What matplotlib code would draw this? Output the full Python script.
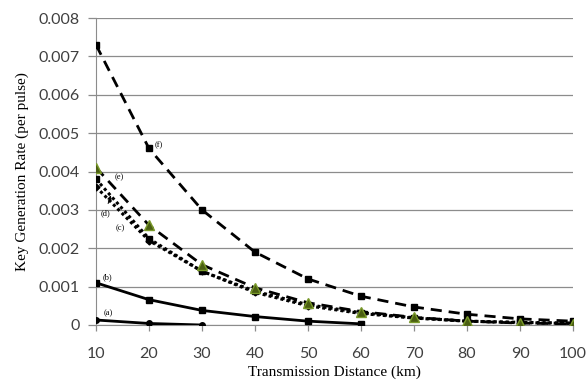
import matplotlib
matplotlib.use("Agg")
import matplotlib.pyplot as plt
import matplotlib.ticker as ticker

distance = [10, 20, 30, 40, 50, 60, 70, 80, 90, 100]
rate_a = [0.00013, 0.00004, 0.0]
rate_b = [0.0011, 0.00066, 0.00038, 0.00022, 0.0001, 0.00003]
rate_c = [0.0036, 0.0022, 0.0014, 0.00085, 0.0005, 0.0003, 0.00018, 0.0001, 0.00006, 0.00004]
rate_d = [0.0038, 0.00225, 0.0014, 0.00088, 0.00053, 0.00032, 0.00019, 0.0001, 0.00007, 0.00005]
rate_e = [0.0041, 0.0026, 0.00157, 0.00097, 0.00058, 0.00035, 0.0002, 0.0001, 0.00005, 0.00003]
rate_f = [0.0073, 0.0046, 0.0030, 0.0019, 0.0012, 0.00075, 0.00047, 0.00028, 0.00016, 0.0001]

fig = plt.figure(figsize=(5.87, 3.83), dpi=100)
ax = fig.add_axes([96 / 587, 1 - 325 / 383, (573 - 96) / 587, (325 - 18) / 383])

ax.plot(distance[:3], rate_a, color='black', lw=2, marker='o', ms=4, zorder=3)
ax.plot(distance[:6], rate_b, color='black', lw=2, marker='s', ms=4, zorder=3)
ax.plot(distance, rate_c, color='black', lw=2.2, ls=(0, (1, 1)), marker='D', ms=3.5, zorder=3)
ax.plot(distance, rate_d, color='black', lw=2.2, ls=(0, (1, 1)), marker='s', ms=5, zorder=3)
ax.plot(distance, rate_e, color='black', lw=2, ls=(0, (4, 2.5)), marker='^', ms=7,
        mfc='#4a5e12', mec='#7a9a2a', zorder=4)
ax.plot(distance, rate_f, color='black', lw=2, ls=(0, (4, 2.5)), marker='s', ms=4.5, zorder=3)

lab_font = dict(family='Liberation Serif', fontsize=6)
ax.text(12.3, 0.00031, '(a)', ha='center', va='center', **lab_font)
ax.text(12.1, 0.00125, '(b)', ha='center', va='center', **lab_font)
ax.text(14.5, 0.00253, '(c)', ha='center', va='center', **lab_font)
ax.annotate('(d)', xy=(12.8, 0.00338), xytext=(11.7, 0.00292), ha='center', va='center',
            arrowprops=dict(arrowstyle='-|>', color='black', lw=0.7, mutation_scale=6,
                            shrinkA=2, shrinkB=0), zorder=5, **lab_font)
ax.text(14.3, 0.00385, '(e)', ha='center', va='center', **lab_font)
ax.text(21.9, 0.00469, '(f)', ha='center', va='center', **lab_font)

ax.set_xlim(10, 100)
ax.set_ylim(0, 0.008)
ax.set_xticks(distance)
ax.yaxis.set_major_locator(ticker.MultipleLocator(0.001))
ax.yaxis.set_major_formatter(ticker.FuncFormatter(lambda v, _: '0' if abs(v) < 1e-12 else f"{v:.3f}"))
ax.grid(axis='y', color='#8c8c8c', lw=0.9)
ax.set_axisbelow(True)

for s in ['top', 'right']:
    ax.spines[s].set_visible(False)
ax.spines['left'].set_color('#8c8c8c')
ax.spines['bottom'].set_color('#8c8c8c')
ax.tick_params(axis='y', length=5.8, width=0.9, color='#8c8c8c', direction='out', labelsize=11.5, pad=6)
ax.tick_params(axis='x', length=4, width=0.9, color='#8c8c8c', direction='out', labelsize=11.5, pad=12)
for t in ax.get_xticklabels() + ax.get_yticklabels():
    t.set_fontfamily('Lato')
    t.set_color('#404040')

ax.set_xlabel('Transmission Distance (km)', family='Liberation Serif', fontsize=11, labelpad=3)
ax.set_ylabel('Key Generation Rate (per pulse)', family='Liberation Serif', fontsize=11, labelpad=7)

fig.savefig('out.png', dpi=100)
